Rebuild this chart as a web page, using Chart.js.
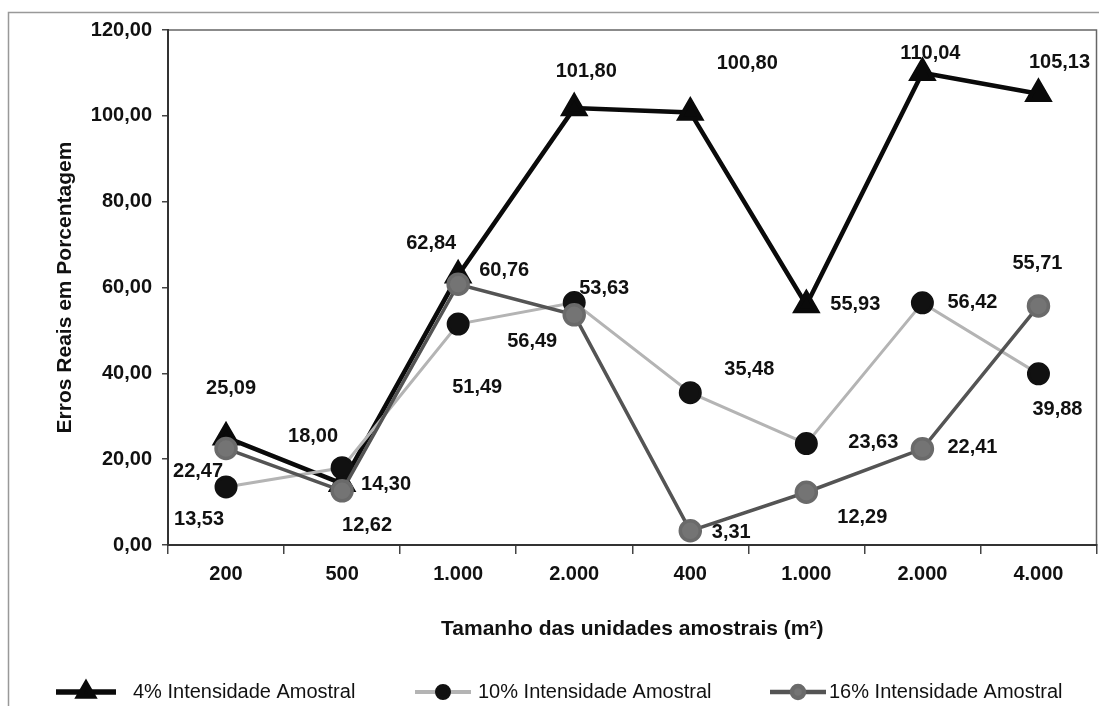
<!DOCTYPE html>
<html>
<head>
<meta charset="utf-8">
<script src="https://cdn.jsdelivr.net/npm/chart.js@4"></script>
<style>
  html, body { margin: 0; padding: 0; background: #fff; overflow: hidden; width: 1099px; height: 706px; }
</style>
</head>
<body>
<canvas id="errosChart" width="1099" height="706"></canvas>
<script>
// chart data
const categories = ['200', '500', '1.000', '2.000', '400', '1.000', '2.000', '4.000'];
const seriesNames = ['4% Intensidade Amostral', '10% Intensidade Amostral', '16% Intensidade Amostral'];
const values4 = [25.09, 14.30, 62.84, 101.80, 100.80, 55.93, 110.04, 105.13];
const values10 = [13.53, 18.00, 51.49, 56.49, 35.48, 23.63, 56.42, 39.88];
const values16 = [22.47, 12.62, 60.76, 53.63, 3.31, 12.29, 22.41, 55.71];
const yTicks = [0, 20, 40, 60, 80, 100, 120];

const FONT = "'Liberation Sans', Arial, sans-serif";
const fmt = v => v.toFixed(2).replace('.', ',');

// where each value label sits relative to its point (px)
const labelOffsets = [
  [[5, -49], [44, 1], [-27, -32], [12, -37], [57, -49], [49, 0], [8, -19], [21, -31]],
  [[-27, 33], [-29, -31], [19, 63], [-42, 39], [59, -23], [67, -1], [50, 0], [19, 36]],
  [[-28, 23], [25, 35], [46, -14], [30, -26], [41, 2], [56, 25], [50, -1], [-1, -42]],
];

const frame = {
  id: 'frame',
  beforeDraw(chart) {
    const ctx = chart.ctx;
    ctx.save();
    ctx.strokeStyle = '#999';
    ctx.lineWidth = 1.5;
    ctx.beginPath();
    ctx.moveTo(8.5, 706);
    ctx.lineTo(8.5, 12.5);
    ctx.lineTo(chart.width, 12.5);
    ctx.stroke();
    const a = chart.chartArea;
    ctx.strokeStyle = '#666';
    ctx.lineWidth = 1.5;
    ctx.strokeRect(a.left, a.top, a.right - a.left, a.bottom - a.top);
    ctx.restore();
  }
};

const valueLabels = {
  id: 'valueLabels',
  afterDatasetsDraw(chart) {
    const ctx = chart.ctx;
    ctx.save();
    ctx.font = 'bold 20px ' + FONT;
    ctx.fillStyle = '#111';
    ctx.textAlign = 'center';
    ctx.textBaseline = 'middle';
    chart.data.datasets.forEach((ds, i) => {
      chart.getDatasetMeta(i).data.forEach((pt, j) => {
        const off = labelOffsets[i][j];
        ctx.fillText(fmt(ds.data[j]), pt.x + off[0], pt.y + off[1]);
      });
    });
    ctx.restore();
  }
};

const lineLegend = {
  id: 'lineLegend',
  afterDraw(chart) {
    const ctx = chart.ctx;
    const y = 692;
    const spots = [[56, 116, 133], [415, 471, 478], [770, 826, 829]];
    ctx.save();
    chart.data.datasets.forEach((ds, i) => {
      const [x0, x1, tx] = spots[i];
      ctx.strokeStyle = ds.borderColor;
      ctx.lineWidth = ds.borderWidth + 1;
      ctx.beginPath();
      ctx.moveTo(x0, y);
      ctx.lineTo(x1, y);
      ctx.stroke();
      ctx.fillStyle = ds.pointBackgroundColor;
      ctx.strokeStyle = ds.pointBorderColor;
      Chart.helpers.drawPoint(ctx, {
        pointStyle: ds.pointStyle, radius: ds.pointStyle === 'triangle' ? 8 : 6,
        rotation: 0, borderWidth: 1
      }, (x0 + x1) / 2, y);
      ctx.fillStyle = '#111';
      ctx.font = '20px ' + FONT;
      ctx.textAlign = 'left';
      ctx.textBaseline = 'middle';
      ctx.fillText(ds.label, tx, y);
    });
    ctx.restore();
  }
};

function makeConfig() {
  return {
    type: 'line',
    data: {
      labels: categories,
      datasets: [
        {
          label: seriesNames[0],
          data: values4,
          borderColor: '#0a0a0a',
          borderWidth: 4.5,
          pointStyle: 'triangle',
          pointRadius: 12,
          pointBackgroundColor: '#0a0a0a',
          pointBorderColor: '#0a0a0a',
          order: 3,
        },
        {
          label: seriesNames[1],
          data: values10,
          borderColor: '#b4b4b4',
          borderWidth: 3,
          pointStyle: 'circle',
          pointRadius: 10,
          pointBackgroundColor: '#111',
          pointBorderColor: '#111',
          order: 2,
        },
        {
          label: seriesNames[2],
          data: values16,
          borderColor: '#545454',
          borderWidth: 3.5,
          pointStyle: 'circle',
          pointRadius: 10,
          pointBackgroundColor: '#747474',
          pointBorderColor: '#6a6a6a',
          order: 1,
        },
      ],
    },
    options: {
      responsive: false,
      animation: false,
      layout: { padding: { top: 30, right: 3, left: 0, bottom: 0 } },
      scales: {
        x: {
          offset: true,
          grid: { offset: true, drawOnChartArea: false, tickLength: 9, color: '#444', lineWidth: 1.5 },
          border: { color: '#333', width: 2 },
          ticks: { color: '#111', padding: 8, font: { family: FONT, size: 20, weight: 'bold' } },
          title: {
            display: true,
            text: 'Tamanho das unidades amostrais (m²)',
            color: '#111',
            font: { family: FONT, size: 21, weight: 'bold' },
            padding: { top: 0, bottom: 64 },
          },
          afterFit(scale) { scale.height = 161; },
        },
        y: {
          min: yTicks[0],
          max: yTicks[yTicks.length - 1],
          grid: { drawOnChartArea: false, tickLength: 6, color: '#444', lineWidth: 1.5 },
          border: { color: '#333', width: 2 },
          ticks: {
            stepSize: yTicks[1] - yTicks[0],
            color: '#111',
            padding: 10,
            font: { family: FONT, size: 20, weight: 'bold' },
            callback: v => fmt(v),
          },
          title: {
            display: true,
            text: 'Erros Reais em Porcentagem',
            color: '#111',
            font: { family: FONT, size: 21, weight: 'bold' },
            padding: { top: 53, bottom: 0 },
          },
          afterFit(scale) { scale.width = 168; },
        },
      },
      plugins: {
        legend: { display: false },
        tooltip: { enabled: false },
      },
    },
    plugins: [frame, valueLabels, lineLegend],
  };
}

const canvas = document.getElementById('errosChart');
let chart = new Chart(canvas, makeConfig());

// the layout keeps some room for the last tick label; the plot should reach x=1096,
// so widen the canvas (its overflow is clipped by the page) and draw again
const gap = Math.round(1096 - chart.chartArea.right);
if (gap > 0) {
  chart.destroy();
  canvas.width = 1099 + gap;
  canvas.height = 706;
  canvas.style.width = (1099 + gap) + 'px';
  canvas.style.height = '706px';
  chart = new Chart(canvas, makeConfig());
}
</script>
</body>
</html>
